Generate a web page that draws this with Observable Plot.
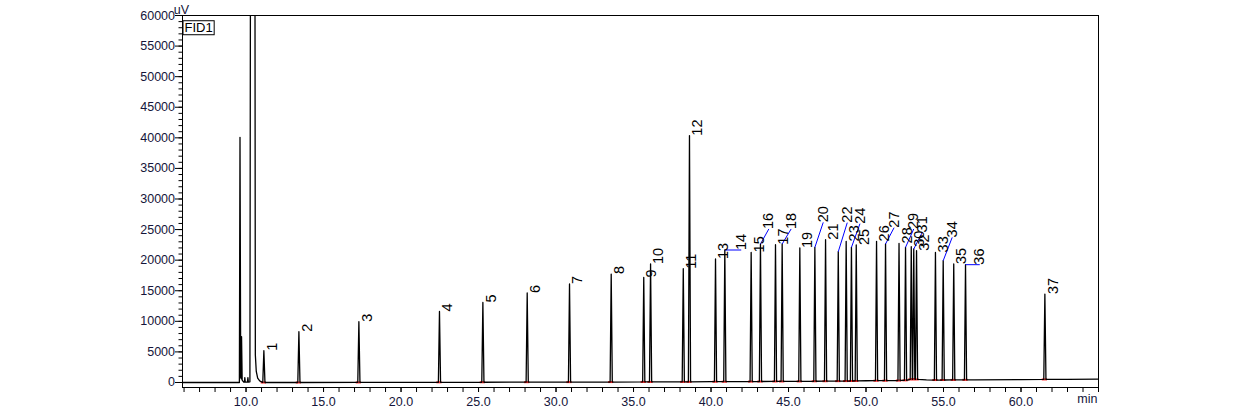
<!DOCTYPE html>
<html><head><meta charset="utf-8">
<script src="https://cdn.jsdelivr.net/npm/d3@7"></script>
<script src="https://cdn.jsdelivr.net/npm/@observablehq/plot@0.6"></script>
<style>
html,body{margin:0;padding:0;background:#fff;}
#chart{width:1260px;height:410px;overflow:hidden;}
svg{display:block;}
</style></head><body><div id="chart"></div>
<script>
// ---- data (retention time in min, signal in uV) ----
const peakIds     = [1,2,3,4,5,6,7,8,9,10,11,12,13,14,15,16,17,18,19,20,21,22,23,24,25,26,27,28,29,30,31,32,33,34,35,36,37];
const peakTimes   = [11.15,13.41,17.28,22.48,25.28,28.14,30.87,33.56,35.66,36.10,38.21,38.61,40.29,40.89,42.59,43.19,44.16,44.59,45.73,46.70,47.39,48.21,48.72,49.06,49.37,50.68,51.26,52.13,52.55,52.92,53.08,53.26,54.48,54.98,55.66,56.42,61.54];
const peakHeights = [5190,8300,9930,11620,13090,14630,16100,17730,17180,19370,18600,40360,20190,21660,21270,22640,22530,22640,21990,22090,23350,21380,23070,22090,22480,23070,22640,22740,22090,22200,21820,21550,21270,19910,19370,19260,14460];
const peakBase    = [0,0,10,30,40,50,60,70,90,90,100,100,130,130,150,160,170,170,180,200,210,220,230,240,250,290,300,320,350,500,550,500,400,410,420,430,500];

// labels moved away from their peak, joined by a blue leader
const leaderIds    = [14,16,18,20,22,24,27,29,31,34,36];
const leaderTimes  = [41.95,43.73,45.17,47.24,48.79,49.61,51.81,53.08,53.63,55.56,57.34];
const leaderLevels = [21660,25100,25100,26180,26130,25960,25310,25100,24540,23720,19260];

// solvent front region (off-scale solvent peak)
const solventTimes  = [9.50,9.57,9.61,9.655,9.69,9.71,9.75,9.85,9.90,9.92,9.95,10.09,10.12,10.15,10.25,10.29,10.57,10.60,10.66,10.75,10.88,11.0];
const solventValues = [0,0,40080,800,600,7480,400,50,50,800,50,50,800,60,100,80000,80000,4500,1800,700,250,100];

// baseline drift
const baselineTimes  = [5.9,9.3,11.6,20,30,40,50,52.3,53.9,57,60,63,65];
const baselineValues = [0,0,0,20,60,130,280,330,420,430,480,520,540];

const xMajorTicks = [10,15,20,25,30,35,40,45,50,55,60];
const xMinorTicks = d3.range(6, 66, 1);
const yMajorTicks = [0,5000,10000,15000,20000,25000,30000,35000,40000,45000,50000,55000,60000];
const yMinorTicks = d3.range(0, 60001, 1000);

const halfWidth = 0.07; // peak half width (min)

// ---- tables ----
const peaks = peakIds.map((id,i)=>({id, t:peakTimes[i], h:peakHeights[i], base:peakBase[i]}));
const leaderSet = new Set(leaderIds);
const leaders = leaderIds.map((id,i)=>{
  const p = peaks.find(d=>d.id===id);
  return {id, t:p.t, h:p.h, lt:leaderTimes[i], lh:leaderLevels[i]};
});
const normalLabels = peaks.filter(d=>!leaderSet.has(d.id));

const trace = [];
solventTimes.forEach((t,i)=>trace.push({t, v:solventValues[i]}));
baselineTimes.forEach((t,i)=>trace.push({t, v:baselineValues[i]}));
peaks.forEach(p=>{
  trace.push({t:p.t-halfWidth, v:p.base},{t:p.t, v:p.h},{t:p.t+halfWidth, v:p.base});
});
trace.sort((a,b)=>a.t-b.t);

const axisColor = "#15153a";
const font = "'Liberation Sans', Arial, sans-serif";

const chart = Plot.plot({
  width:1260, height:410,
  marginLeft:182, marginRight:162, marginTop:15, marginBottom:23,
  x:{domain:[5.9,65], label:null},
  y:{domain:[-820,60000], label:null},
  style:{fontFamily:font, fontSize:"12px", background:"#fff", color:"#000", overflow:"visible"},
  marks:[
    Plot.axisX({ticks:xMinorTicks, tickSize:5, tickFormat:()=>"", label:null, stroke:"#000"}),
    Plot.axisX({ticks:xMajorTicks, tickSize:5, tickPadding:5, tickFormat:d=>d.toFixed(1), label:null, fill:axisColor, fontSize:12.5, stroke:"#000"}),
    Plot.axisY({ticks:yMinorTicks, tickSize:3.5, tickFormat:()=>"", label:null, stroke:"#000"}),
    Plot.axisY({ticks:yMajorTicks, tickSize:7, tickPadding:0.5, tickFormat:d=>String(d), label:null, fill:axisColor, fontSize:12.5, stroke:"#000"}),
    Plot.ruleY(peaks, {x1:d=>d.t-0.17, x2:d=>d.t+0.17, y:"base", stroke:"#ff2020", strokeWidth:2, clip:true}),
    Plot.line(trace, {x:"t", y:"v", stroke:"#000", strokeWidth:1.3, clip:true}),
    Plot.link(leaders, {x1:"t", y1:"h", x2:"lt", y2:"lh", stroke:"#0000ff", strokeWidth:1}),
    Plot.text(normalLabels, {x:"t", y:"h", text:d=>String(d.id), rotate:-90, textAnchor:"start", dx:8, fontSize:14.5, fill:"#000"}),
    Plot.text(leaders, {x:"lt", y:"lh", text:d=>String(d.id), rotate:-90, textAnchor:"start", fontSize:14.5, fill:"#000"}),
    Plot.frame({stroke:"#000"}),
    Plot.text(["uV"], {frameAnchor:"top-left", text:d=>d, textAnchor:"middle", dx:-1, dy:-10, fontSize:12.5, fill:axisColor}),
    Plot.text(["min"], {x:[65], text:()=> "min", frameAnchor:"bottom", textAnchor:"end", dx:-1, dy:15, fontSize:12.5, fill:axisColor}),
    Plot.text(["FID1"], {frameAnchor:"top-left", text:d=>d, textAnchor:"start", dx:2, dy:7.5, fontSize:13, fill:"#000", className:"fid-label"})
  ]
});
document.getElementById("chart").appendChild(chart);

// box around the detector name, sized from its rendered text
const fid = chart.querySelector(".fid-label text");
if (fid) {
  const bb = fid.getBBox();
  const g = fid.parentNode;
  const rect = document.createElementNS("http://www.w3.org/2000/svg","rect");
  rect.setAttribute("x", bb.x - 1.5);
  rect.setAttribute("y", bb.y + 0.5);
  rect.setAttribute("width", bb.width + 3);
  rect.setAttribute("height", bb.height - 1);
  rect.setAttribute("fill", "#fff");
  rect.setAttribute("stroke", "#000");
  rect.setAttribute("stroke-width", "1");
  if (fid.getAttribute("transform")) rect.setAttribute("transform", fid.getAttribute("transform"));
  g.insertBefore(rect, fid);
}
</script>
</body></html>
